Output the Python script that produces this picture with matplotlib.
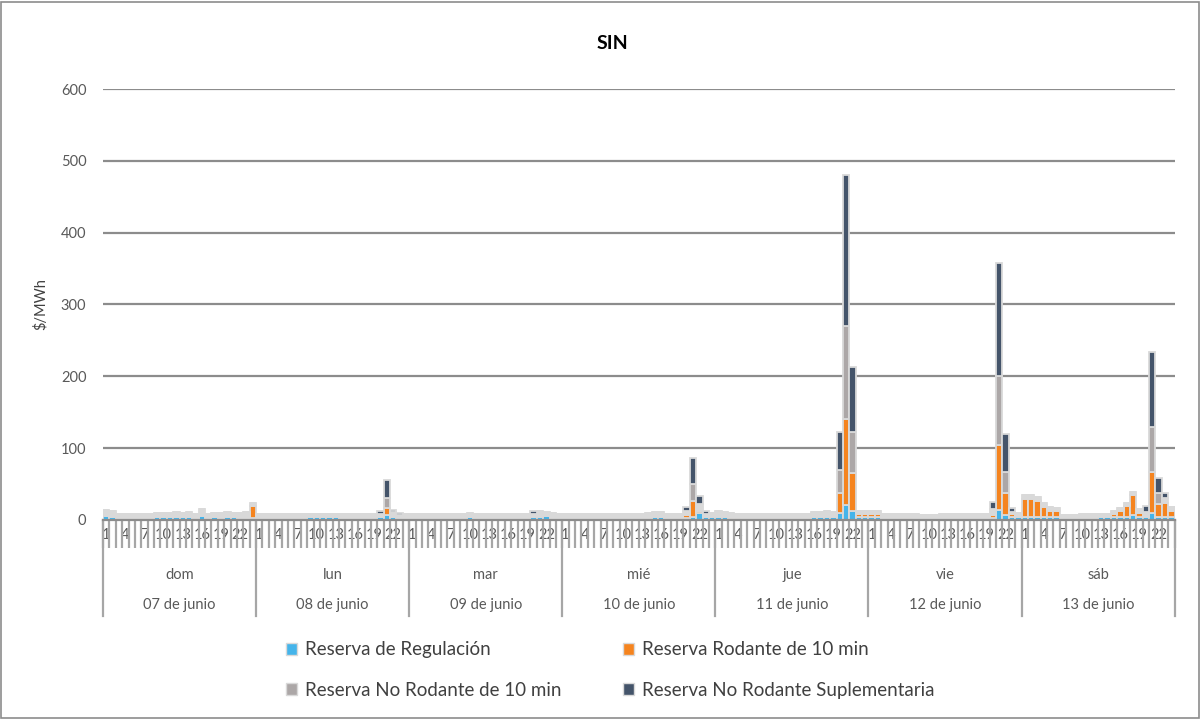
import numpy as np
import matplotlib
matplotlib.use("Agg")
import matplotlib.pyplot as plt
import matplotlib.patches as mpatches
import matplotlib.transforms as mtransforms

plt.rcParams['font.family'] = ['Lato', 'DejaVu Sans']

dias = ["dom", "lun", "mar", "mié", "jue", "vie", "sáb"]
fechas = ["07 de junio", "08 de junio", "09 de junio", "10 de junio",
          "11 de junio", "12 de junio", "13 de junio"]
horas = list(range(1, 25))

# $/MWh, una fila por dia (24 horas)
regulacion = [
    5, 4, 0, 0, 0, 0, 0, 0, 4, 4, 4, 4, 4, 4, 0, 6, 0, 4, 0, 4, 4, 0, 0, 3,
    0, 0, 0, 0, 0, 0, 0, 0, 4, 4, 4, 4, 4, 0, 0, 0, 0, 0, 0, 4, 7, 4, 0, 0,
    0, 0, 0, 0, 0, 0, 0, 0, 0, 4, 0, 0, 0, 0, 0, 0, 0, 0, 0, 4, 4, 5, 0, 0,
    0, 0, 0, 0, 0, 0, 0, 0, 0, 0, 0, 0, 0, 0, 4, 4, 0, 0, 0, 3, 4, 10, 4, 4,
    4, 4, 0, 0, 0, 0, 0, 0, 0, 0, 0, 0, 0, 0, 0, 4, 4, 4, 4, 10, 21, 12, 4, 4,
    4, 4, 0, 0, 0, 0, 0, 0, 0, 0, 0, 0, 0, 0, 0, 0, 0, 0, 0, 3, 14, 7, 4, 4,
    4, 4, 4, 4, 4, 4, 0, 0, 0, 0, 0, 0, 4, 4, 4, 4, 4, 7, 4, 4, 10, 4, 4, 4,
]
rodante10 = [
    0, 0, 0, 0, 0, 0, 0, 0, 0, 0, 0, 0, 0, 0, 0, 0, 0, 0, 0, 0, 0, 0, 0, 16,
    0, 0, 0, 0, 0, 0, 0, 0, 0, 0, 0, 0, 0, 0, 0, 0, 0, 0, 0, 0, 9, 0, 0, 0,
    0, 0, 0, 0, 0, 0, 0, 0, 0, 0, 0, 0, 0, 0, 0, 0, 0, 0, 0, 0, 0, 0, 0, 0,
    0, 0, 0, 0, 0, 0, 0, 0, 0, 0, 0, 0, 0, 0, 0, 0, 0, 0, 0, 4, 22, 3, 0, 0,
    0, 0, 3, 3, 0, 0, 0, 0, 0, 0, 0, 0, 0, 0, 0, 0, 0, 0, 0, 27, 119, 53, 5, 5,
    4, 4, 0, 0, 0, 3, 3, 0, 0, 0, 0, 0, 0, 0, 0, 0, 0, 0, 0, 4, 91, 30, 4, 0,
    25, 25, 23, 14, 9, 9, 0, 0, 0, 0, 0, 0, 0, 0, 5, 9, 15, 28, 6, 2, 57, 18, 20, 9,
]
no_rodante10 = [
    9, 8, 9, 9, 8, 8, 9, 8, 6, 6, 6, 7, 6, 7, 9, 9, 8, 6, 10, 7, 6, 10, 11, 4,
    8, 8, 8, 8, 8, 8, 8, 8, 5, 5, 5, 5, 5, 8, 8, 8, 8, 8, 9, 5, 14, 7, 7, 8,
    9, 9, 8, 8, 8, 8, 8, 8, 9, 6, 9, 9, 8, 8, 8, 8, 8, 9, 9, 5, 9, 6, 10, 9,
    9, 8, 8, 8, 8, 8, 8, 9, 9, 9, 9, 9, 9, 10, 7, 7, 9, 9, 9, 6, 24, 9, 5, 6,
    9, 7, 7, 6, 9, 8, 8, 8, 8, 8, 8, 8, 8, 8, 9, 7, 7, 8, 7, 33, 130, 57, 3, 4,
    5, 5, 9, 8, 8, 5, 5, 8, 7, 7, 7, 8, 8, 8, 9, 9, 9, 9, 8, 8, 95, 30, 3, 6,
    6, 6, 5, 5, 5, 4, 7, 7, 7, 8, 8, 8, 5, 5, 4, 4, 4, 4, 5, 5, 63, 16, 7, 5,
]
suplementaria = [
    0, 0, 0, 0, 0, 0, 0, 0, 0, 0, 0, 0, 0, 0, 0, 0, 0, 0, 0, 0, 0, 0, 0, 0,
    0, 0, 0, 0, 0, 0, 0, 0, 0, 0, 0, 0, 0, 0, 0, 0, 0, 0, 0, 3, 26, 3, 3, 0,
    0, 0, 0, 0, 0, 0, 0, 0, 0, 0, 0, 0, 0, 0, 0, 0, 0, 0, 0, 3, 0, 0, 0, 0,
    0, 0, 0, 0, 0, 0, 0, 0, 0, 0, 0, 0, 0, 0, 0, 0, 0, 0, 0, 5, 36, 11, 4, 0,
    0, 0, 0, 0, 0, 0, 0, 0, 0, 0, 0, 0, 0, 0, 0, 0, 0, 0, 0, 53, 210, 91, 0, 0,
    0, 0, 0, 0, 0, 0, 0, 0, 0, 0, 0, 0, 0, 0, 0, 0, 0, 0, 0, 10, 158, 53, 5, 0,
    0, 0, 0, 0, 0, 0, 0, 0, 0, 0, 0, 0, 0, 0, 0, 0, 0, 0, 0, 8, 104, 21, 7, 0,
]

series = [
    ("Reserva de Regulación", regulacion, "#45b4ea"),
    ("Reserva Rodante de 10 min", rodante10, "#f5841f"),
    ("Reserva No Rodante de 10 min", no_rodante10, "#aca7a7"),
    ("Reserva No Rodante Suplementaria", suplementaria, "#44546a"),
]
borde = "#d9d9d9"

fig = plt.figure(figsize=(12.01, 7.19), dpi=100)
ax = fig.add_axes([0.0858, 0.2768, 0.8922, 0.5994])

x = np.arange(len(regulacion))
bottom = np.zeros(len(x))
handles = []
for nombre, vals, color in series:
    vals = np.array(vals, dtype=float)
    # los segmentos muy cortos quedan tapados por el borde claro (como en Excel)
    colores = [borde if v < 12 and color == "#aca7a7" else color for v in vals]
    ax.bar(x, vals, bottom=bottom, width=1.0, color=colores,
           edgecolor=borde, linewidth=1.3, zorder=3)
    bottom += vals
    handles.append(mpatches.Patch(facecolor=color, edgecolor=borde,
                                  linewidth=1.0, label=nombre))

ax.set_xlim(-0.5, len(x) - 0.5)
ax.set_ylim(0, 600)
ax.set_yticks(range(0, 601, 100))
ax.yaxis.grid(True, color="#8c8c8c", linewidth=1.6, zorder=0)
ax.tick_params(axis="y", length=0, labelsize=10.5, labelcolor="#595959", pad=12)
for s in ["left", "right", "top"]:
    ax.spines[s].set_visible(False)
ax.spines["bottom"].set_color("#8c8c8c")
ax.spines["bottom"].set_linewidth(1.6)
ax.spines["bottom"].set_zorder(4)

# etiquetas de hora
pos = [d * 24 + h - 1 for d in range(7) for h in horas if (h - 1) % 3 == 0]
lab = [str(h) for d in range(7) for h in horas if (h - 1) % 3 == 0]
ax.set_xticks(pos)
ax.set_xticklabels(lab)
ax.set_xticks(np.arange(-0.5, len(x), 1.0), minor=True)
ax.tick_params(axis="x", which="major", length=0, labelsize=10.5,
               labelcolor="#595959", pad=6)
ax.tick_params(axis="x", which="minor", length=20, width=1.6,
               color="#a6a6a6", direction="out")

trans = mtransforms.blended_transform_factory(ax.transData, ax.transAxes)
for d in range(8):
    ax.plot([d * 24 - 0.5, d * 24 - 0.5], [0, -0.222], transform=trans,
            color="#a6a6a6", linewidth=1.6, clip_on=False)
for d in range(7):
    ax.text(d * 24 + 11.5, -0.128, dias[d], transform=trans, ha="center",
            va="center", fontsize=10.5, color="#595959")
    ax.text(d * 24 + 11.5, -0.197, fechas[d], transform=trans, ha="center",
            va="center", fontsize=10.5, color="#595959")

ax.set_ylabel("$/MWh", fontsize=10.5, color="#404040", labelpad=9)
fig.text(0.51, 0.94, "SIN", ha="center", va="center", fontsize=14,
         fontweight="bold", color="black")

leg = fig.legend(handles=[handles[0], handles[2], handles[1], handles[3]],
                 ncol=2, loc="center", bbox_to_anchor=(0.508, 0.068),
                 frameon=False, fontsize=13.5, handlelength=0.6,
                 handleheight=0.6, handletextpad=0.4, columnspacing=3.3,
                 labelspacing=1.25)
for t in leg.get_texts():
    t.set_color("#404040")

fig.patches.append(mpatches.Rectangle((0.001, 0.001), 0.997, 0.996,
                                      transform=fig.transFigure, fill=False,
                                      edgecolor="#8c8c8c", linewidth=1.2))

fig.savefig("out.png", dpi=100)
